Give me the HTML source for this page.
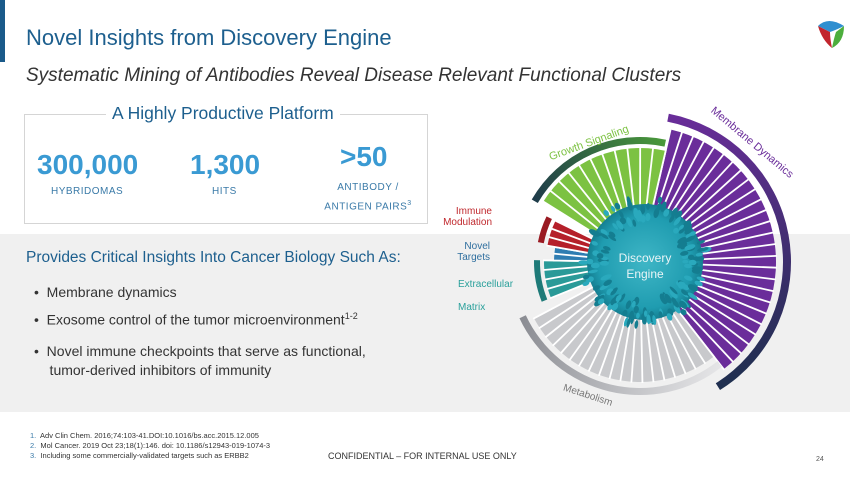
<!DOCTYPE html>
<html><head><meta charset="utf-8"><style>
body{margin:0;width:850px;height:478px;position:relative;overflow:hidden;background:#fff;font-family:"Liberation Sans",sans-serif}
.a{position:absolute;white-space:nowrap}
</style></head><body>
<div class="a" style="left:0;top:234px;width:850px;height:178px;background:#f0f0f0"></div>
<div class="a" style="left:0;top:0;width:5px;height:62px;background:#1a5a8a"></div>
<div class="a" style="left:26px;top:25px;font-size:22px;color:#1d5f8e">Novel Insights from Discovery Engine</div>
<div class="a" style="left:26px;top:65px;font-size:19px;font-style:italic;color:#333">Systematic Mining of Antibodies Reveal Disease Relevant Functional Clusters</div>
<div class="a" style="left:24px;top:114px;width:402px;height:108px;border:1px solid #d5d5d5"></div>
<div class="a" style="left:106px;top:103px;background:#fff;padding:0 6px;font-size:17.5px;color:#1d5f8e">A Highly Productive Platform</div>
<div class="a" style="left:37px;top:149px;font-size:28px;font-weight:bold;color:#3a9ad3">300,000</div>
<div class="a" style="left:51px;top:186px;font-size:10px;color:#3a7aa8;letter-spacing:.5px">HYBRIDOMAS</div>
<div class="a" style="left:190px;top:149px;font-size:28px;font-weight:bold;color:#3a9ad3">1,300</div>
<div class="a" style="left:212px;top:186px;font-size:10px;color:#3a7aa8;letter-spacing:.5px">HITS</div>
<div class="a" style="left:340px;top:141px;font-size:28px;font-weight:bold;color:#3a9ad3">&gt;50</div>
<div class="a" style="left:318px;top:180px;width:100px;text-align:center;font-size:10px;line-height:16px;color:#3a7aa8;letter-spacing:.5px">ANTIBODY /<br>ANTIGEN PAIRS<sup style="font-size:7px">3</sup></div>
<div class="a" style="left:26px;top:249px;font-size:15.5px;color:#1d5f8e">Provides Critical Insights Into Cancer Biology Such As:</div>
<div class="a" style="left:34px;top:281px;font-size:14px;color:#333;line-height:23px">•&nbsp;&nbsp;Membrane dynamics</div>
<div class="a" style="left:34px;top:311px;font-size:14px;color:#333">•&nbsp;&nbsp;Exosome control of the tumor microenvironment<sup style="font-size:9px">1-2</sup></div>
<div class="a" style="left:34px;top:342px;font-size:14px;color:#333;line-height:19px">•&nbsp;&nbsp;Novel immune checkpoints that serve as functional,<br>&nbsp;&nbsp;&nbsp;&nbsp;tumor-derived inhibitors of immunity</div>
<div class="a" style="left:30px;top:431px;font-size:7.5px;color:#333;line-height:10px"><span style="color:#3a7aa8">1.</span>&nbsp; Adv Clin Chem. 2016;74:103-41.DOI:10.1016/bs.acc.2015.12.005<br><span style="color:#3a7aa8">2.</span>&nbsp; Mol Cancer. 2019 Oct 23;18(1):146. doi: 10.1186/s12943-019-1074-3<br><span style="color:#3a7aa8">3.</span>&nbsp; Including some commercially-validated targets such as ERBB2</div>
<div class="a" style="left:328px;top:451px;font-size:9px;color:#333">CONFIDENTIAL – FOR INTERNAL USE ONLY</div>
<div class="a" style="left:816px;top:456px;font-size:7px;color:#555">24</div>
<svg class="a" style="left:0;top:0" width="850" height="478" id="s">
<g transform="translate(818,20)">
<path d="M0 6 Q10 -4 26 6 Q18 10 12 12 Z" fill="#2f8fd0"/>
<path d="M0 6 Q4 20 14 28 Q12 18 12 12 Z" fill="#c2262e"/>
<path d="M26 6 Q26 22 14 28 Q16 18 18 12 Z" fill="#4cae3c"/>
</g>
<text x="492" y="214" font-size="10" fill="#c0282d" text-anchor="end" font-family="Liberation Sans">Immune</text>
<text x="492" y="225" font-size="10" fill="#c0282d" text-anchor="end" font-family="Liberation Sans">Modulation</text>
<text x="490" y="249" font-size="10" fill="#2e6e9e" text-anchor="end" font-family="Liberation Sans">Novel</text>
<text x="490" y="260" font-size="10" fill="#2e6e9e" text-anchor="end" font-family="Liberation Sans">Targets</text>
<text x="458" y="287" font-size="10" fill="#2aa09b" font-family="Liberation Sans">Extracellular</text>
<text x="458" y="310" font-size="10" fill="#2aa09b" font-family="Liberation Sans">Matrix</text>
</svg>
<script>
const s=document.getElementById('s'),cx=640,cy=262,NS='http://www.w3.org/2000/svg';
function P(r,a){a=a*Math.PI/180;return [cx+r*Math.cos(a),cy+r*Math.sin(a)];}
function sector(r0,r1,a0,a1,fill){const p=[P(r0,a0),P(r1,a0),P(r1,a1),P(r0,a1)];const e=document.createElementNS(NS,'path');
e.setAttribute('d',`M${p[0]}L${p[1]}A${r1} ${r1} 0 ${a1-a0>180?1:0} 1 ${p[2]}L${p[3]}A${r0} ${r0} 0 ${a1-a0>180?1:0} 0 ${p[0]}Z`);e.setAttribute('fill',fill);s.appendChild(e);}
function line(a,r){const p=P(r,a);const e=document.createElementNS(NS,'line');e.setAttribute('x1',cx);e.setAttribute('y1',cy);e.setAttribute('x2',p[0]);e.setAttribute('y2',p[1]);e.setAttribute('stroke','#fff');e.setAttribute('stroke-width','1.8');s.appendChild(e);}
function bars(a0,a1,n,r,fill){sector(20,r,a0,a1,fill);const w=(a1-a0)/n;for(let i=0;i<=n;i++)line(a0+i*w,r+1);}
bars(-77,52,26,136,'#6a2d9a');
bars(52,152,19,120,'#c8c9cc');
bars(158,181,4,96,'#2a9a98');
bars(181,190,2,86,'#2f7db2');
bars(190,206,3,94,'#b5202a');
bars(212,283,11,114,'#7cc242');
function ring(r0,r1,a0,a1,c0,c1,id){const g=document.createElementNS(NS,'linearGradient');g.id=id;const p0=P(r1,a0),p1=P(r1,a1);
g.setAttribute('gradientUnits','userSpaceOnUse');g.setAttribute('x1',p0[0]);g.setAttribute('y1',p0[1]);g.setAttribute('x2',p1[0]);g.setAttribute('y2',p1[1]);
g.innerHTML=`<stop offset="0" stop-color="${c0}"/><stop offset="1" stop-color="${c1}"/>`;s.appendChild(g);sector(r0,r1,a0,a1,`url(#${id})`);}
ring(143,151,-79,58,'#6a2d9a','#1e2f4e','g1');
ring(126,133,52,155,'#e6e6e8','#8a8c92','g2');
ring(100,106,158,181,'#1e7a78','#1e7a78','g3');
ring(98,104,191,206,'#9a1a22','#9a1a22','g4');
ring(118,125,210,282,'#1e3a4a','#4a9a3a','g5');
const cg=document.createElementNS(NS,'radialGradient');cg.id='cg';cg.innerHTML='<stop offset="0" stop-color="#3fb6c6"/><stop offset="0.8" stop-color="#1f9cb0"/><stop offset="1" stop-color="#157f92"/>';s.appendChild(cg);
let c=document.createElementNS(NS,'circle');c.setAttribute('cx',cx+5);c.setAttribute('cy',cy);c.setAttribute('r',58);c.setAttribute('fill','url(#cg)');s.appendChild(c);
let seed=7;function rnd(){seed=(seed*9301+49297)%233280;return seed/233280;}
for(let i=0;i<160;i++){const a=rnd()*360,r=40+rnd()*24;const q=P(r,a);const e=document.createElementNS(NS,'ellipse');
e.setAttribute('cx',q[0]+5);e.setAttribute('cy',q[1]);e.setAttribute('rx',3+rnd()*3);e.setAttribute('ry',1.5+rnd()*1.5);
e.setAttribute('transform',`rotate(${a} ${q[0]+5} ${q[1]})`);e.setAttribute('fill',rnd()>.5?'#2aa9bd':'#147d90');s.appendChild(e);}
function txt(x,y,t,size,fill,extra){const e=document.createElementNS(NS,'text');e.setAttribute('x',x);e.setAttribute('y',y);e.setAttribute('font-size',size);e.setAttribute('fill',fill);e.setAttribute('text-anchor','middle');e.setAttribute('font-family','Liberation Sans');if(extra)e.setAttribute('transform',extra);e.textContent=t;s.appendChild(e);}
txt(645,262,'Discovery',12,'#e8f4f6');txt(645,278,'Engine',12,'#e8f4f6');
txt(590,146,'Growth Signaling',11,'#7cc242','rotate(-20 590 146)');
txt(750,145,'Membrane Dynamics',11,'#6a2d9a','rotate(40 750 145)');
txt(587,398,'Metabolism',10,'#777','rotate(18 587 398)');
</script>
</body></html>
